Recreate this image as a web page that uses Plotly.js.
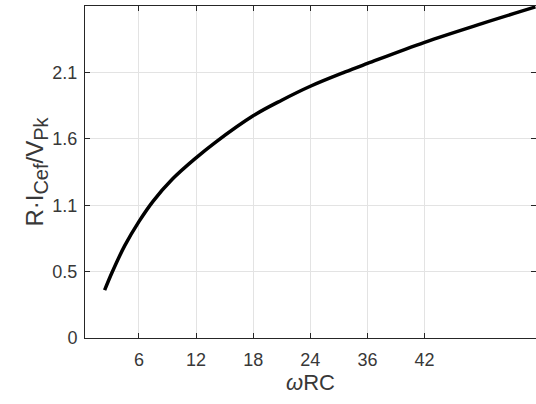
<!DOCTYPE html>
<html>
<head>
<meta charset="utf-8">
<script src="https://cdn.plot.ly/plotly-3.0.1.min.js"></script>
<style>html,body{margin:0;padding:0;background:#fff;}#chart{width:536px;height:404px;}</style>
</head>
<body>
<div id="chart"></div>
<script>
// Curve values
const omegaRC = [2.40, 3.2, 4.5, 6.0, 7.5, 9.5, 12.0, 14.0, 18.0, 21.0, 24.0, 27.6, 30.0, 36.0, 42.0, 47.64];
const ratio   = [0.384, 0.53, 0.74, 0.935, 1.10, 1.275, 1.447, 1.57, 1.785, 1.91, 2.022, 2.135, 2.205, 2.375, 2.525, 2.659];

// Tick positions and their (manually set) labels
const xTickVals = [6, 12, 18, 24, 30, 36];
const xTickText = ["6", "12", "18", "24", "36", "42"];
const yTickVals = [0, 8/15, 16/15, 1.6, 32/15];
const yTickText = ["0", "0.5", "1.1", "1.6", "2.1"];

const fontFam = "Liberation Sans, Arial, sans-serif";
const txt = "#262626";

const trace = {
  x: omegaRC, y: ratio, type: "scatter", mode: "lines",
  line: {color: "#000000", width: 3.5, shape: "spline", smoothing: 1},
  hoverinfo: "skip"
};

const axisCommon = {
  showline: true, linecolor: txt, linewidth: 1, mirror: "ticks",
  ticks: "inside", ticklen: 5, tickwidth: 1, tickcolor: txt,
  showgrid: true, gridcolor: "#e3e3e3", gridwidth: 1,
  zeroline: false,
  tickfont: {family: fontFam, size: 18, color: "#383838"}
};

const layout = {
  width: 536, height: 404,
  margin: {l: 85, r: 0, t: 6, b: 66},
  paper_bgcolor: "#ffffff", plot_bgcolor: "#ffffff",
  showlegend: false,
  xaxis: Object.assign({}, axisCommon, {
    range: [0.34, 47.7],
    tickmode: "array", tickvals: xTickVals, ticktext: xTickText,
    ticklabelstandoff: 5,
    title: {text: "<i>ω</i>RC", font: {family: fontFam, size: 22, color: "#383838"}, standoff: 4}
  }),
  yaxis: Object.assign({}, axisCommon, {
    range: [0, 8/3],
    tickmode: "array", tickvals: yTickVals, ticktext: yTickText,
    ticklabelstandoff: 3,
    title: {text: "R·I<sub><span style='font-size:20px'>Cef</span></sub>/V<sub><span style='font-size:20px'>Pk</span></sub>", font: {family: fontFam, size: 24, color: "#383838"}, standoff: 0}
  })
};

Plotly.newPlot("chart", [trace], layout, {staticPlot: true, displayModeBar: false});
</script>
</body>
</html>
